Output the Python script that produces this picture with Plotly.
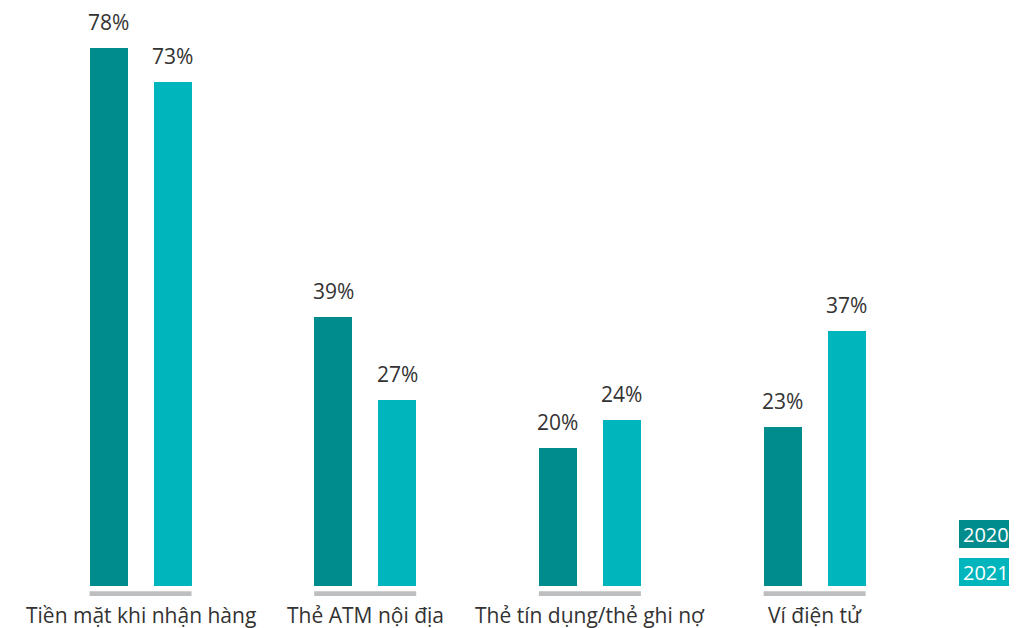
import plotly.graph_objects as go

categories = ["Tiền mặt khi nhận hàng", "Thẻ ATM nội địa", "Thẻ tín dụng/thẻ ghi nợ", "Ví điện tử"]
years = ["2020", "2021"]
values_2020 = [78, 39, 20, 23]
values_2021 = [73, 27, 24, 37]

colors = {"2020": "#008c8c", "2021": "#00b5bb"}
gray = "#bcbec0"
text_color = "#333333"
font_family = "Open Sans, Noto Sans, sans-serif"

# page body has an 8px margin at left/top; the figure fills the rest of the window
PAD = 8
W, H = 1017 - PAD, 628 - PAD
px_per_unit_x = 224.7
x0 = -(140.5 - PAD) / px_per_unit_x
x1 = x0 + W / px_per_unit_x
px_per_pct = 6.9
y_zero_px = 586.0 - PAD
y1 = y_zero_px / px_per_pct
y0 = -(H - y_zero_px) / px_per_pct

bar_w = 38.0 / px_per_unit_x
offsets = {"2020": -51.0 / px_per_unit_x, "2021": 13.0 / px_per_unit_x}

xs = list(range(len(categories)))
fig = go.Figure()
annotations = []
for yr, vals in zip(years, [values_2020, values_2021]):
    fig.add_trace(go.Bar(
        x=xs, y=vals, name=yr,
        marker=dict(color=colors[yr], line=dict(width=0)),
        width=bar_w, offset=offsets[yr],
        hoverinfo="skip", showlegend=False,
    ))
    for xi, v in zip(xs, vals):
        annotations.append(dict(
            x=xi + offsets[yr] + bar_w / 2, y=v, xref="x", yref="y",
            text=f"{v}%", showarrow=False, yanchor="bottom", yshift=10,
            font=dict(size=21, color=text_color, family=font_family),
        ))

shapes = []
for xi, cat in zip(xs, categories):
    left = xi + offsets["2020"]
    right = xi + offsets["2021"] + bar_w
    shapes.append(dict(type="rect", xref="x", yref="y", x0=left, x1=right,
                       y0=-0.75, y1=-1.45, fillcolor=gray, line=dict(width=0), layer="below"))
    annotations.append(dict(
        x=(left + right) / 2, y=-4.2, xref="x", yref="y", text=cat, showarrow=False,
        yanchor="middle", font=dict(size=21, color=text_color, family=font_family),
    ))

# legend boxes (reference pixel coords, shifted by page padding)
legend_items = [("2020", 520, 548), ("2021", 558, 586)]
for yr, top, bot in legend_items:
    t, b = top - PAD, bot - PAD
    shapes.append(dict(type="rect", xref="paper", yref="paper",
                       x0=(959 - PAD) / W, x1=(1013 - PAD) / W, y0=1 - b / H, y1=1 - t / H,
                       fillcolor=colors[yr], line=dict(width=0)))
    annotations.append(dict(
        x=(986 - PAD) / W, y=1 - (t + b) / 2 / H, xref="paper", yref="paper",
        text=yr, showarrow=False, xanchor="center", yanchor="middle",
        font=dict(size=20, color="white", family=font_family),
    ))

fig.update_layout(
    width=W, height=H, margin=dict(l=0, r=0, t=0, b=0),
    paper_bgcolor="white", plot_bgcolor="white",
    xaxis=dict(range=[x0, x1], visible=False, fixedrange=True),
    yaxis=dict(range=[y0, y1], visible=False, fixedrange=True),
    shapes=shapes, annotations=annotations, bargap=0,
)
fig.write_html("out.html")
